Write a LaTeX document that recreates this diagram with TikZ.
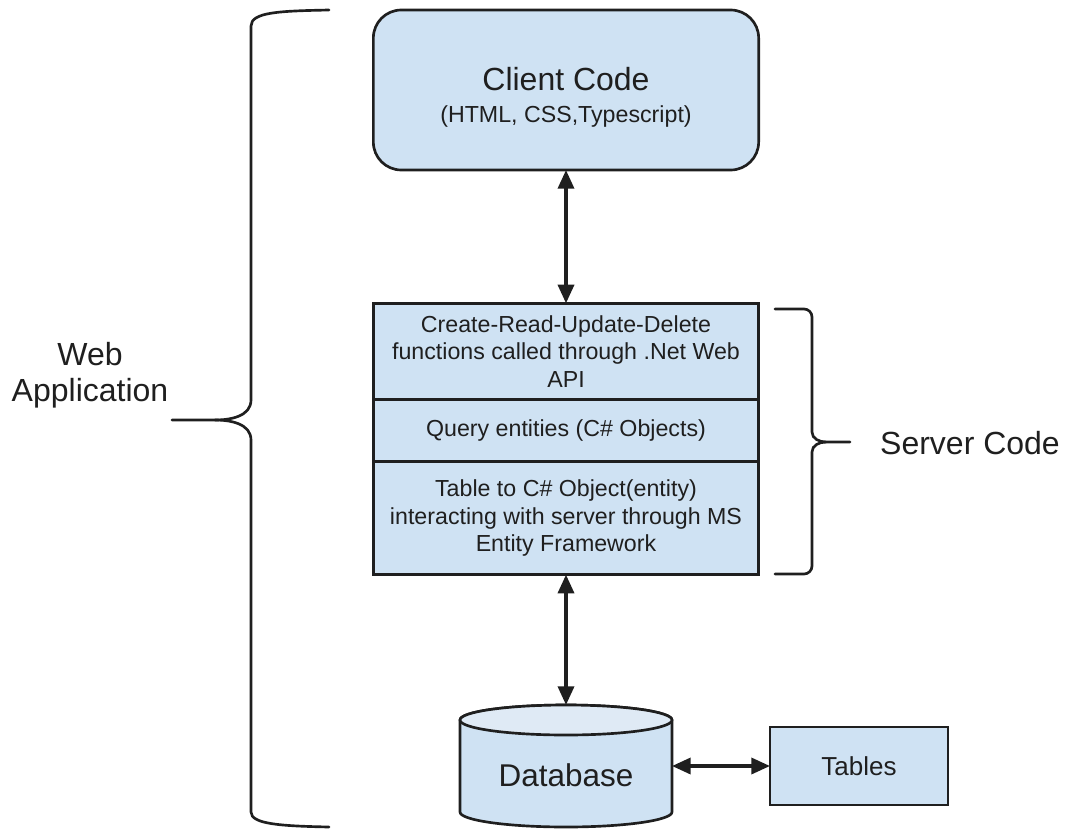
\documentclass[tikz,border=0pt]{standalone}
\usepackage{fontspec}
\setmainfont{Liberation Sans}
\usepackage{tikz}
\usetikzlibrary{positioning,arrows.meta,calc,backgrounds}
\definecolor{ink}     {HTML}{1F1F1F}
\definecolor{boxblue} {HTML}{CFE2F3}
\definecolor{topblue} {HTML}{DFEAF5}
\tikzset{
  every node/.style={text=ink},
  % --- nodes
  blk/.style   = {draw=ink, fill=boxblue, line width=2pt, align=center,
                  outer sep=0pt, inner sep=4pt},
  layer/.style = {blk, minimum width=289pt,
                  font=\fontsize{17.4}{20.8}\selectfont},
  big/.style   = {font=\fontsize{24}{27}\selectfont, align=center},
  % --- edges
  biarrow/.style = {draw=ink, line width=2.6pt,
                    {Triangle[length=14pt,width=12pt]}-{Triangle[length=14pt,width=12pt]}},
  brc/.style   = {line width=2pt, draw=ink, line cap=round},
}
\begin{document}
\begin{tikzpicture}[x=0.75pt,y=-0.75pt]
  \useasboundingbox (0,0) rectangle (1068,829);

  \node[blk, rounded corners=21pt, minimum width=289pt, minimum height=120pt,
        font=\fontsize{17.4}{24}\selectfont]
    (client) at (566,90)
    {\rule{0pt}{28pt}{\fontsize{24}{24}\selectfont Client Code}\\ (HTML, CSS,Typescript)};

  \node[layer, minimum height=72pt, below=100pt of client] (crud)
    {Create-Read-Update-Delete\\ functions called through .Net Web\\ API};
  \node[layer, minimum height=46.5pt, below=0pt of crud] (query)
    {Query entities (C\# Objects)};
  \node[layer, minimum height=85pt, below=0pt of query] (orm)
    {Table to C\# Object(entity)\\ interacting with server through MS\\ Entity Framework};

  \node[minimum width=159pt, minimum height=91.5pt, text height=30pt, text depth=0pt,
        outer sep=0pt, font=\fontsize{23.6}{27}\selectfont] (db) at (566,766) {Database};
  \node[blk, minimum width=133.5pt, minimum height=58.5pt, right=73.5pt of db,
        font=\fontsize{19.5}{22}\selectfont] (tables) {Tables};

  % cylinder behind the database label
  \begin{scope}[on background layer]
    \draw[line width=2pt, draw=ink, fill=boxblue]
      ($(db.north west)+(0,15)$) -- ($(db.south west)+(0,-15)$)
      arc[start angle=180, end angle=360, x radius=79.5pt, y radius=11.25pt]
      -- ($(db.north east)+(0,15)$)
      arc[start angle=0, end angle=180, x radius=79.5pt, y radius=11.25pt] -- cycle;
    \draw[line width=2pt, draw=ink, fill=topblue]
      ($(db.north)+(0,15)$) ellipse[x radius=79.5pt, y radius=11.25pt];
  \end{scope}

  \draw[biarrow] (client.south) -- (crud.north);
  \draw[biarrow] (orm.south) -- (db.north);
  \draw[biarrow] (db.east) -- (tables.west);

  % braces
  \draw[brc] (329,10) .. controls (280,11) and (251,12) .. (251,26) -- (251,400)
    to[out=-90,in=0] (215,420) -- (172,420);
  \draw[brc] (215,420) to[out=0,in=90] (251,440) -- (251,812)
    .. controls (251,824) and (280,826) .. (329,827);
  \draw[brc] (775,309) -- (804,309) to[out=0,in=90] (812,317) -- (812,432)
    to[out=-90,in=180] (826,442) -- (850,442);
  \draw[brc] (826,442) to[out=180,in=90] (812,452) -- (812,566)
    to[out=-90,in=0] (804,574) -- (775,574);

  \node[big] (webapp) at (90,375) {Web\\ Application};
  \node[big] (server) at (970,443) {Server Code};
\end{tikzpicture}
\end{document}
